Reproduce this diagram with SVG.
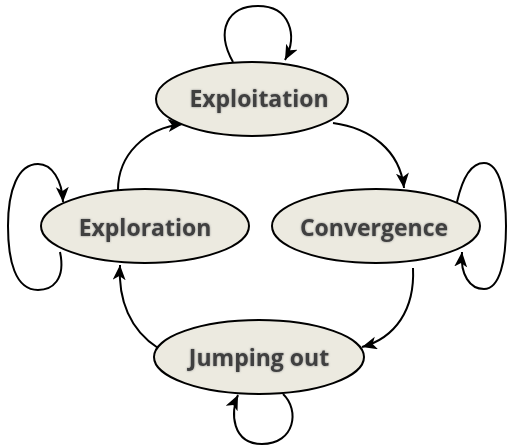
<svg xmlns="http://www.w3.org/2000/svg" width="507" height="446" viewBox="0 0 507 446">
  <style>
    .node ellipse { fill: #ECEAE0; stroke: #000; stroke-width: 2; }
    .node text { font-family: "Open Sans", "Liberation Sans", sans-serif; font-weight: bold; font-size: 23px; fill: #3F3F3F; text-anchor: middle; filter: url(#shadow); }
    .edge { fill: none; stroke: #000; stroke-width: 2; marker-end: url(#arrow); }
  </style>
  <defs>
    <marker id="arrow" markerUnits="userSpaceOnUse" markerWidth="18" markerHeight="14" refX="15" refY="6.5" orient="auto">
      <path d="M0,0 L15,6.5 L0,13 L4,6.5 z" fill="#000"/>
    </marker>
    <filter id="shadow" x="-10%" y="-30%" width="120%" height="160%">
      <feGaussianBlur in="SourceAlpha" stdDeviation="1.2" result="b"/>
      <feFlood flood-color="#808080" flood-opacity="0.9"/>
      <feComposite in2="b" operator="in" result="s"/>
      <feMerge><feMergeNode in="s"/><feMergeNode in="SourceGraphic"/></feMerge>
    </filter>
  </defs>
  <g id="connectors">
    <path class="edge" d="M233,62 C215,30 228,6 258,6 C290,6 298,35 285,60"/>
    <path class="edge" d="M60,252 C66,280 52,290 38,290 C15,290 8,260 8,226 C8,190 18,164 38,164 C52,164 62,180 63,202"/>
    <path class="edge" d="M457,202 C462,180 470,163 484,163 C500,163 506,195 506,226 C506,260 500,289 484,289 C470,289 460,275 462,252"/>
    <path class="edge" d="M283,394 C300,410 295,444 262,444 C232,444 230,412 238,395"/>
    <path class="edge" d="M118,190 C118,155 145,128 183,124"/>
    <path class="edge" d="M333,123 C370,128 400,150 404,188"/>
    <path class="edge" d="M413,268 C415,310 395,338 362,347"/>
    <path class="edge" d="M158,348 C130,330 118,300 120,265"/>
  </g>
  <g id="exploitation" class="node">
    <ellipse cx="252" cy="99" rx="96" ry="37"/>
    <text x="259" y="107">Exploitation</text>
  </g>
  <g id="exploration" class="node">
    <ellipse cx="145" cy="226" rx="104" ry="37"/>
    <text x="145" y="236">Exploration</text>
  </g>
  <g id="convergence" class="node">
    <ellipse cx="376" cy="226" rx="104" ry="37"/>
    <text x="374" y="236">Convergence</text>
  </g>
  <g id="jumping-out" class="node">
    <ellipse cx="259" cy="357" rx="105" ry="37"/>
    <text x="259" y="366">Jumping out</text>
  </g>
</svg>
